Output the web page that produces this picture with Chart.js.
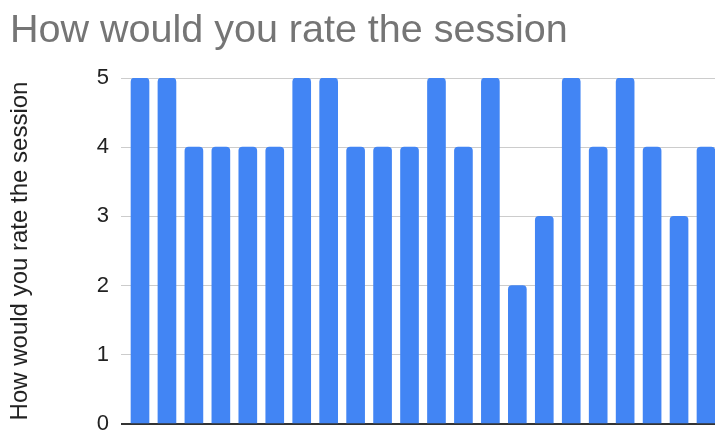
<!DOCTYPE html>
<html>
<head>
<meta charset="utf-8">
<script src="https://cdn.jsdelivr.net/npm/chart.js@4.4.1/dist/chart.umd.min.js"></script>
<style>
  html, body { margin: 0; padding: 0; background: #ffffff; overflow: hidden; }
  #wrap { width: 715px; height: 431px; }
</style>
</head>
<body>
<div id="wrap"><canvas id="c" width="715" height="431"></canvas></div>
<script>
const chartTitle = 'How would you rate the session';
const axisTitle = 'How would you rate the session';
const responses = ['1','2','3','4','5','6','7','8','9','10','11','12','13','14','15','16','17','18','19','20','21','22'];
const ratings = [5,5,4,4,4,4,5,5,4,4,4,5,4,5,2,3,5,4,5,4,3,4];
const yTicks = [0,1,2,3,4,5];

const points = responses.map((r, i) => ({ x: i, y: ratings[i] }));
const FONT = "'Liberation Sans', Arial, sans-serif";

new Chart(document.getElementById('c'), {
  type: 'bar',
  data: {
    datasets: [{
      label: axisTitle,
      data: points,
      backgroundColor: '#4285F4',
      borderWidth: 0,
      borderRadius: { topLeft: 4, topRight: 4, bottomLeft: 0, bottomRight: 0 },
      borderSkipped: false,
      barThickness: 18
    }]
  },
  options: {
    responsive: false,
    animation: false,
    devicePixelRatio: 1,
    layout: { padding: { left: 10, right: 0, top: 0, bottom: 7 } },
    plugins: {
      legend: { display: false },
      tooltip: { enabled: false },
      title: {
        display: true,
        text: chartTitle,
        align: 'start',
        color: '#757575',
        font: { family: FONT, size: 39.5, weight: 'normal', lineHeight: 1.2 },
        padding: { top: 7, bottom: 23.6 }
      }
    },
    scales: {
      x: {
        type: 'linear',
        display: false,
        min: -0.705,
        max: 21.334,
        offset: false
      },
      y: {
        min: 0,
        max: 5,
        afterFit: (s) => { s.width = 111; s.paddingTop = 0; s.paddingBottom = 0; },
        afterBuildTicks: (s) => { s.ticks = yTicks.map(v => ({ value: v })); },
        ticks: {
          color: '#222222',
          font: { family: FONT, size: 22 },
          padding: 12
        },
        grid: {
          drawTicks: false,
          color: (ctx) => (ctx.tick && ctx.tick.value === 0) ? '#333333' : '#cccccc',
          lineWidth: (ctx) => (ctx.tick && ctx.tick.value === 0) ? 2 : 1
        },
        border: { display: false },
        title: {
          display: true,
          text: axisTitle,
          color: '#222222',
          font: { family: FONT, size: 24, lineHeight: 1.2 },
          padding: { top: -4, bottom: 0 }
        }
      }
    }
  }
});
</script>
</body>
</html>
